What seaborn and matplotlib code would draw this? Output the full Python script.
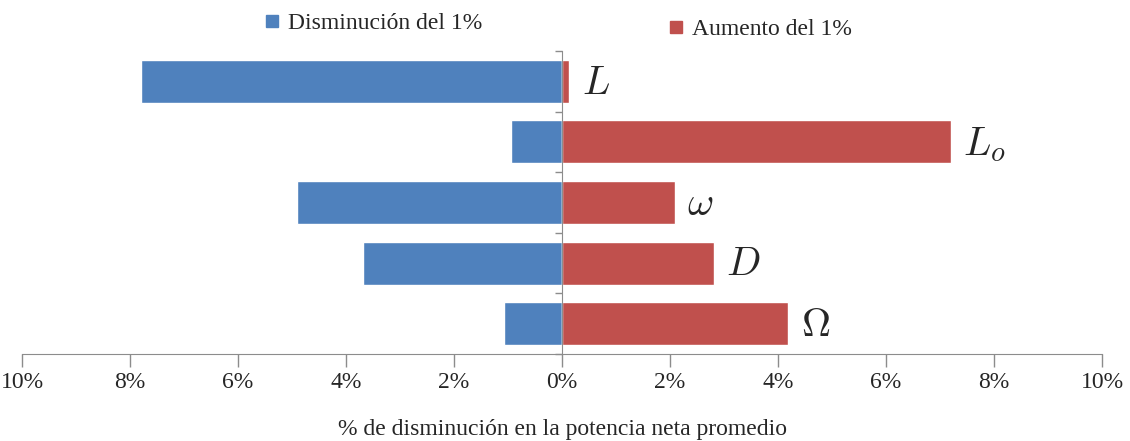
import matplotlib
matplotlib.use("Agg")
import matplotlib.pyplot as plt
from matplotlib.lines import Line2D
import numpy as np
import pandas as pd
import seaborn as sns

parametros = ["L", "Lo", "omega", "D", "Omega"]
etiquetas = [r"$L$", r"$L_o$", r"$\omega$", r"$D$", r"$\Omega$"]
disminucion = [-7.8, -0.94, -4.9, -3.68, -1.07]
aumento = [0.13, 7.2, 2.09, 2.81, 4.19]
xticks = [-10, -8, -6, -4, -2, 0, 2, 4, 6, 8, 10]

azul = "#4F81BD"
rojo = "#C0504D"
gris = "#8c8c8c"

df = pd.DataFrame({
    "parametro": parametros * 2,
    "valor": disminucion + aumento,
    "serie": ["Disminución del 1%"] * 5 + ["Aumento del 1%"] * 5,
})

sns.set_style("white")
plt.rcParams["font.family"] = ["Liberation Serif", "DejaVu Serif"]
plt.rcParams["mathtext.fontset"] = "cm"

fig = plt.figure(figsize=(11.3, 4.41), dpi=100)
ax = fig.add_axes([22 / 1130, 1 - 354 / 441, 1080 / 1130, 303 / 441])

sns.barplot(data=df, x="valor", y="parametro", hue="serie", orient="h",
            dodge=False, palette=[azul, rojo], saturation=1, width=0.71,
            ax=ax, legend=False)

ax.set_xlim(-10, 10)
ax.set_ylim(4.5, -0.5)
ax.set_xticks(xticks)
ax.set_xticklabels([f"{abs(t)}%" for t in xticks], fontsize=17)
ax.set_yticks(np.arange(-0.5, 5, 1))
ax.set_yticklabels([])
ax.set_ylabel("")
ax.set_xlabel("% de disminución en la potencia neta promedio", fontsize=17, labelpad=19)

for s in ["top", "right"]:
    ax.spines[s].set_visible(False)
ax.spines["left"].set_position(("data", 0))
ax.spines["left"].set_color(gris)
ax.spines["bottom"].set_color(gris)
ax.tick_params(axis="x", bottom=True, direction="out", length=9, width=1, color=gris, pad=4)
ax.tick_params(axis="y", left=True, direction="out", length=5, width=1, color=gris)

for i, (lab, v) in enumerate(zip(etiquetas, aumento)):
    ax.annotate(lab, xy=(v, i), xytext=(9, -2), textcoords="offset points",
                ha="left", va="center", fontsize=29)

h1 = [Line2D([], [], marker="s", color=azul, linestyle="none", markersize=8)]
h2 = [Line2D([], [], marker="s", color=rojo, linestyle="none", markersize=8)]
fig.legend(h1, ["Disminución del 1%"], loc="center left", bbox_to_anchor=(248 / 1130, 1 - 23 / 441),
           frameon=False, fontsize=17, handletextpad=0.2, borderpad=0, handlelength=1)
fig.legend(h2, ["Aumento del 1%"], loc="center left", bbox_to_anchor=(652 / 1130, 1 - 29 / 441),
           frameon=False, fontsize=17, handletextpad=0.2, borderpad=0, handlelength=1)

fig.savefig("out.png", dpi=100)
